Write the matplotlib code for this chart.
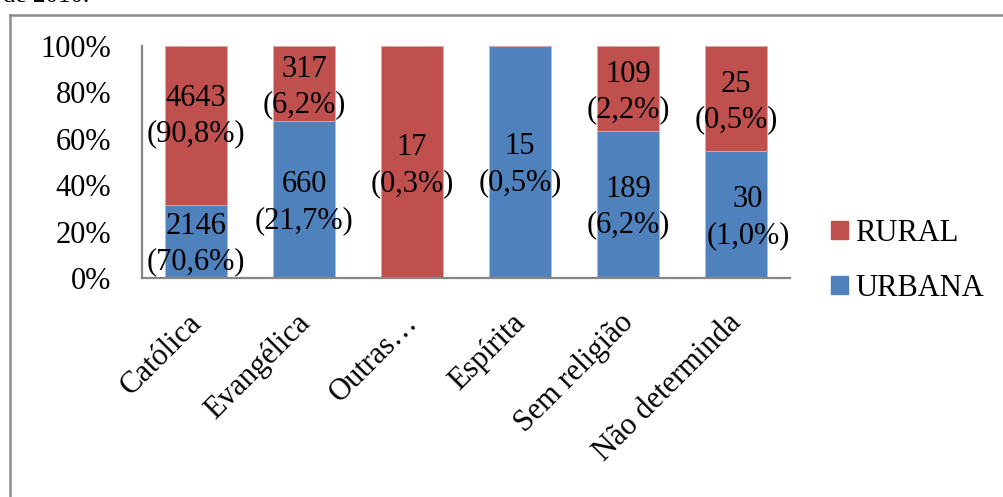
import matplotlib.pyplot as plt
from matplotlib.lines import Line2D

plt.rcParams['font.family'] = ['Liberation Serif', 'DejaVu Serif']

categories = ['Católica', 'Evangélica', 'Outras…', 'Espírita', 'Sem religião', 'Não determinda']
urbana = [2146, 660, 0, 15, 189, 30]
rural = [4643, 317, 17, 0, 109, 25]
urbana_pct = ['70,6', '21,7', None, '0,5', '6,2', '1,0']
rural_pct = ['90,8', '6,2', '0,3', None, '2,2', '0,5']
yticks = [0, 20, 40, 60, 80, 100]

BLUE = '#4F81BD'
RED = '#C0504D'

fig = plt.figure(figsize=(10.04, 4.97), dpi=100)
ax = fig.add_axes([142 / 1004, 1 - 278 / 497, (790 - 142) / 1004, (278 - 46) / 497])

x = list(range(len(categories)))
tot = [u + r for u, r in zip(urbana, rural)]
u_share = [100 * u / t for u, t in zip(urbana, tot)]
r_share = [100 * r / t for r, t in zip(rural, tot)]

w = 0.574
ax.bar(x, u_share, w, color=BLUE, edgecolor='#a9c0df', linewidth=0.6, label='URBANA')
ax.bar(x, r_share, w, bottom=u_share, color=RED, edgecolor='#e0a8a6', linewidth=0.6, label='RURAL')

fs = 22
for i in x:
    if urbana_pct[i] is not None:
        dx = 0.11 if i == 5 else 0
        ax.text(i + dx, u_share[i] / 2 - 1.2, f'{urbana[i]}\n({urbana_pct[i]}%)',
                ha='center', va='center', fontsize=fs, linespacing=1.3)
    if rural_pct[i] is not None:
        dy = 4 if i == 0 else -1.5
        ax.text(i, u_share[i] + r_share[i] / 2 + dy, f'{rural[i]}\n({rural_pct[i]}%)',
                ha='center', va='center', fontsize=fs, linespacing=1.3)

ax.set_xlim(-0.5, 5.5)
ax.set_ylim(0, 100)
ax.set_yticks(yticks)
ax.set_yticklabels([f'{v}%' for v in yticks], fontsize=fs)
# labels sit a little left of the bar centres in the original
ax.set_xticks([i - 0.085 for i in x])
ax.set_xticklabels(categories, fontsize=fs, rotation=45, ha='right', rotation_mode='anchor')
ax.tick_params(axis='both', length=0)
ax.tick_params(axis='y', pad=22)
ax.tick_params(axis='x', pad=22)
for s in ['top', 'right']:
    ax.spines[s].set_visible(False)
for s in ['left', 'bottom']:
    ax.spines[s].set_color('#868686')
    ax.spines[s].set_linewidth(1.6)

handles = [plt.Rectangle((0, 0), 1, 1, color=RED), plt.Rectangle((0, 0), 1, 1, color=BLUE)]
fig.legend(handles, ['RURAL', 'URBANA'], loc='center left',
           bbox_to_anchor=(831 / 1004, 1 - 261 / 497), frameon=False, fontsize=fs,
           handlelength=0.55, handleheight=0.55, handletextpad=0.25, labelspacing=0.85,
           borderaxespad=0, borderpad=0)

# outer frame of the chart (only top and left edges are in view)
fig.add_artist(Line2D([10 / 1004, 1.0], [1 - 15 / 497, 1 - 15 / 497], color='#8c8c8c', lw=1.8))
fig.add_artist(Line2D([10 / 1004, 10 / 1004], [0, 1 - 15 / 497], color='#8c8c8c', lw=1.8))

# caption text cut off at the top edge
fig.text(3 / 1004, 1 - 2.5 / 497, 'de 2010.', fontsize=18, va='baseline', ha='left')

fig.savefig('out.png', dpi=100)
